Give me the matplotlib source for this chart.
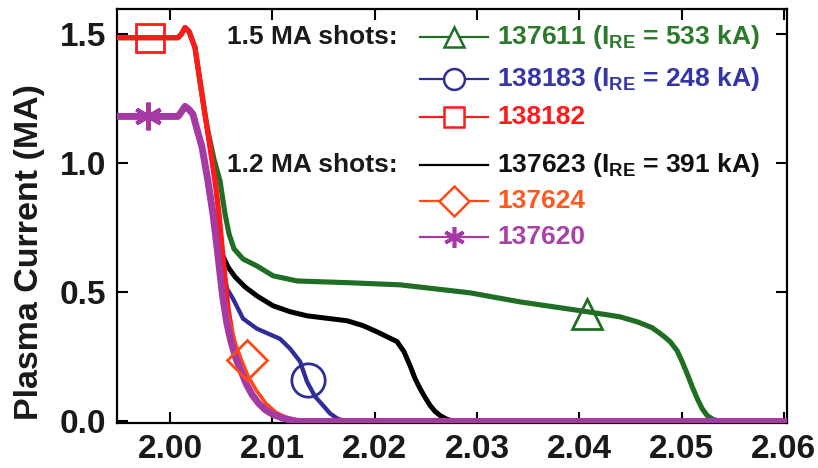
import matplotlib
matplotlib.use("Agg")
import matplotlib.pyplot as plt
from matplotlib.lines import Line2D

plt.rcParams['font.family'] = ['Liberation Sans', 'DejaVu Sans']
plt.rcParams['mathtext.fontset'] = 'custom'
plt.rcParams['mathtext.rm'] = 'Liberation Sans:bold'
plt.rcParams['mathtext.bf'] = 'Liberation Sans:bold'
plt.rcParams['mathtext.it'] = 'Liberation Sans:bold'

# ---------------- data ----------------
# 138182 (1.5 MA, red)
t_138182 = [1.9940, 2.00078, 2.00108, 2.00147, 2.00186, 2.00215, 2.00244, 2.00293, 2.00342, 2.00391,
            2.00440, 2.00479, 2.00508, 2.00538, 2.00567, 2.00606, 2.00655, 2.00704, 2.00782, 2.00880,
            2.00978, 2.01105, 2.01251, 2.0610]
I_138182 = [1.486, 1.486, 1.498, 1.525, 1.510, 1.479, 1.448, 1.317, 1.189, 1.062,
            0.931, 0.803, 0.676, 0.552, 0.436, 0.340, 0.251, 0.185, 0.116, 0.062,
            0.031, 0.012, 0.0, 0.0]

# 138183 (1.5 MA, blue)
t_138183 = [1.9940, 2.00078, 2.00108, 2.00147, 2.00186, 2.00215, 2.00244, 2.00293, 2.00342, 2.00391,
            2.00440, 2.00479, 2.00508, 2.00538, 2.00557, 2.00616, 2.00714, 2.00850, 2.01075, 2.01173,
            2.01271, 2.01339, 2.01417, 2.01496, 2.01564, 2.01632, 2.01711, 2.0610]
I_138183 = [1.486, 1.486, 1.498, 1.525, 1.510, 1.479, 1.448, 1.317, 1.189, 1.062,
            0.931, 0.803, 0.676, 0.552, 0.514, 0.475, 0.398, 0.359, 0.320, 0.282,
            0.232, 0.154, 0.097, 0.062, 0.031, 0.012, 0.0, 0.0]

# 137611 (1.5 MA, green)
t_137611 = [1.9940, 2.00078, 2.00108, 2.00147, 2.00186, 2.00215, 2.00244, 2.00293, 2.00342, 2.00371,
            2.00430, 2.00489, 2.00538, 2.00577, 2.00626, 2.00714, 2.00850, 2.01007, 2.01241, 2.01760,
            2.02248, 2.02933, 2.03421, 2.04076, 2.04399, 2.04565, 2.04712, 2.04819, 2.04888, 2.04956,
            2.05005, 2.05054, 2.05103, 2.05152, 2.05200, 2.05249, 2.05308, 2.05376, 2.0610]
I_137611 = [1.486, 1.486, 1.498, 1.525, 1.510, 1.479, 1.448, 1.317, 1.189, 1.124,
            1.015, 0.931, 0.803, 0.726, 0.668, 0.629, 0.602, 0.564, 0.544, 0.537,
            0.529, 0.498, 0.463, 0.425, 0.405, 0.386, 0.363, 0.332, 0.309, 0.274,
            0.232, 0.185, 0.135, 0.089, 0.050, 0.023, 0.008, 0.0, 0.0]

# 137620 (1.2 MA, purple)
t_137620 = [1.9940, 2.00078, 2.00108, 2.00147, 2.00186, 2.00225, 2.00264, 2.00313, 2.00371, 2.00420,
            2.00459, 2.00489, 2.00518, 2.00557, 2.00596, 2.00645, 2.00684, 2.00743, 2.00802, 2.00860,
            2.00929, 2.01007, 2.01105, 2.01251, 2.0610]
I_137620 = [1.181, 1.181, 1.197, 1.220, 1.208, 1.189, 1.131, 1.062, 0.931, 0.803,
            0.676, 0.571, 0.475, 0.378, 0.309, 0.243, 0.205, 0.147, 0.104, 0.073,
            0.046, 0.027, 0.012, 0.0, 0.0]

# 137624 (1.2 MA, orange)
t_137624 = [1.9940, 2.00078, 2.00108, 2.00147, 2.00186, 2.00225, 2.00264, 2.00313, 2.00371, 2.00420,
            2.00459, 2.00489, 2.00532, 2.00587, 2.00640, 2.00700, 2.00765, 2.00845, 2.00940, 2.01036,
            2.01160, 2.01280, 2.0610]
I_137624 = [1.181, 1.181, 1.197, 1.220, 1.208, 1.189, 1.131, 1.062, 0.931, 0.803,
            0.676, 0.571, 0.475, 0.378, 0.301, 0.236, 0.174, 0.120, 0.069, 0.035,
            0.012, 0.0, 0.0]

# 137623 (1.2 MA, black)
t_137623 = [1.9940, 2.00078, 2.00108, 2.00147, 2.00186, 2.00225, 2.00264, 2.00313, 2.00371, 2.00420,
            2.00469, 2.00508, 2.00567, 2.00635, 2.00733, 2.00850, 2.01007, 2.01173, 2.01339, 2.01564,
            2.01730, 2.01887, 2.02023, 2.02121, 2.02219, 2.02287, 2.02346, 2.02395, 2.02444, 2.02493,
            2.02542, 2.02590, 2.02639, 2.02708, 2.02786, 2.0610]
I_137623 = [1.181, 1.181, 1.197, 1.220, 1.208, 1.189, 1.131, 1.062, 0.919, 0.822,
            0.726, 0.649, 0.598, 0.560, 0.521, 0.486, 0.448, 0.425, 0.409, 0.398,
            0.390, 0.371, 0.347, 0.328, 0.309, 0.270, 0.216, 0.166, 0.127, 0.093,
            0.062, 0.039, 0.023, 0.008, 0.0, 0.0]

# single marker positions
mk_137611 = (2.04076, 0.417)
mk_138183 = (2.01349, 0.162)
mk_138182 = (1.99804, 1.486)
mk_137624 = (2.00753, 0.236)
mk_137620 = (1.99785, 1.181)

c_green = '#1f6e24'
c_blue = '#2e2e96'
c_red = '#ff1a1a'
c_black = '#000000'
c_orange = '#ff4a14'
c_purple = '#a53aa5'

xticks = [2.00, 2.01, 2.02, 2.03, 2.04, 2.05, 2.06]
xticklabels = ['2.00', '2.01', '2.02', '2.03', '2.04', '2.05', '2.06']
yticks = [0.0, 0.5, 1.0, 1.5]
yticklabels = ['0.0', '0.5', '1.0', '1.5']

# ---------------- figure ----------------
fig = plt.figure(figsize=(8.18, 4.68), dpi=100)
ax = fig.add_axes([117/818, (468-423)/468, 670/818, 414/468])

kw = dict(solid_joinstyle='round', solid_capstyle='round')
ax.plot(t_137611, I_137611, color=c_green, lw=3.7, zorder=2, **kw)
ax.plot(t_137623, I_137623, color=c_black, lw=3.6, zorder=3, **kw)
ax.plot(t_138183, I_138183, color=c_blue, lw=3.1, zorder=3, **kw)
ax.plot(t_138182, I_138182, color=c_red, lw=3.8, zorder=4, **kw)
ax.plot(t_137624, I_137624, color=c_orange, lw=2.6, zorder=4.5, **kw)
ax.plot(t_137620, I_137620, color=c_purple, lw=5.0, zorder=5, **kw)

mew = 2.0
ax.plot(*mk_137611, marker='^', ms=21, mfc='none', mec=c_green, mew=mew, zorder=7)
ax.plot(*mk_138183, marker='o', ms=24, mfc='none', mec=c_blue, mew=mew, zorder=7)
ax.plot(*mk_138182, marker='s', ms=20, mfc='none', mec=c_red, mew=mew, zorder=7)
ax.plot(*mk_137624, marker='D', ms=20, mfc='none', mec=c_orange, mew=mew, zorder=7)
ax.plot(*mk_137620, marker=(6, 2, 0), ms=20, mfc='none', mec=c_purple, mew=3.0, zorder=7)

ax.set_xlim(1.99482, 2.0603)
ax.set_ylim(-0.006, 1.597)
ax.set_xticks(xticks)
ax.set_xticklabels(xticklabels)
ax.set_yticks(yticks)
ax.set_yticklabels(yticklabels)
ax.tick_params(direction='in', length=8, width=1.5, top=True, right=True,
               labelsize=24, pad=8)
for lab in ax.get_xticklabels() + ax.get_yticklabels():
    lab.set_fontweight('bold')
    lab.set_color('#1a1a1a')
for s in ax.spines.values():
    s.set_linewidth(1.6)

fig.text(30/818, 1 - 252/468, 'Plasma Current (MA)', rotation=90, ha='center', va='center',
         fontsize=24.5, fontweight='bold', color='#1a1a1a')

# ---------------- legend (manual) ----------------
def ax_xy(px, py):
    return (px - 117) / 670, (423 - py) / 414

entries = [
    (37, c_green, '^', 14, r'137611 (I$_{\rm RE}$ = 533 kA)', '#2a7a2a'),
    (79, c_blue, 'o', 15, r'138183 (I$_{\rm RE}$ = 248 kA)', '#3535a5'),
    (117, c_red, 's', 14, '138182', '#ff1a1a'),
    (165, c_black, None, 0, r'137623 (I$_{\rm RE}$ = 391 kA)', '#111111'),
    (201, c_orange, 'D', 15, '137624', '#ff5a1e'),
    (237, c_purple, (6, 2, 0), 15, '137620', '#aa40aa'),
]
for py, col, mk, ms, label, tcol in entries:
    x0, y0 = ax_xy(420, py)
    x1, _ = ax_xy(488, py)
    xm, _ = ax_xy(454, py)
    ax.add_line(Line2D([x0, x1], [y0, y0], transform=ax.transAxes, color=col, lw=1.6,
                       zorder=8, clip_on=False))
    if mk is not None:
        ax.add_line(Line2D([xm], [y0], transform=ax.transAxes, marker=mk, ms=ms,
                           mfc='white' if mk != (6, 2, 0) else 'none', mec=col,
                           mew=1.8 if mk != (6, 2, 0) else 2.6, zorder=9, clip_on=False))
    tx, _ = ax_xy(497, py)
    ax.text(tx, y0, label, transform=ax.transAxes, ha='left', va='center',
            fontsize=19, fontweight='bold', color=tcol, zorder=10)

for py, label in [(37, '1.5 MA shots:'), (165, '1.2 MA shots:')]:
    tx, ty = ax_xy(398, py)
    ax.text(tx, ty, label, transform=ax.transAxes, ha='right', va='center',
            fontsize=19, fontweight='bold', color='#1a1a1a', zorder=10)

fig.savefig('out.png', dpi=100)
